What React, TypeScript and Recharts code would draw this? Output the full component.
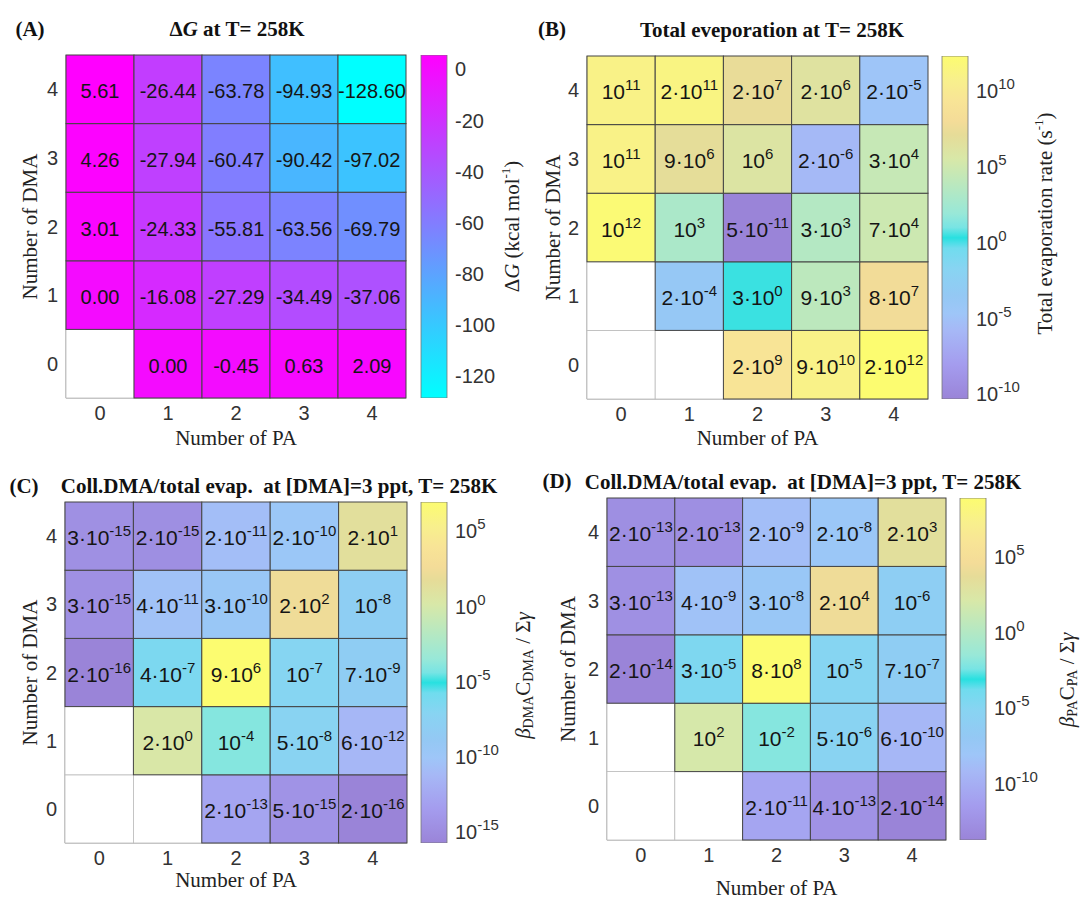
import React from "react";
import { ScatterChart, Scatter, XAxis, YAxis, BarChart, Bar } from "recharts";

const SANS = "'Liberation Sans', Arial, sans-serif";
const SERIF = "'Liberation Serif', 'Times New Roman', serif";

const PA = [0, 1, 2, 3, 4];
const DMA = [0, 1, 2, 3, 4];

// rows go DMA = 0..4, columns PA = 0..4 (null = no cluster)
const deltaG = [
  [null, 0.0, -0.45, 0.63, 2.09],
  [0.0, -16.08, -27.29, -34.49, -37.06],
  [3.01, -24.33, -55.81, -63.56, -69.79],
  [4.26, -27.94, -60.47, -90.42, -97.02],
  [5.61, -26.44, -63.78, -94.93, -128.6],
];
const totalEvap = [
  [null, null, 2e9, 9e10, 2e12],
  [null, 2e-4, 3e0, 9e3, 8e7],
  [1e12, 1e3, 5e-11, 3e3, 7e4],
  [1e11, 9e6, 1e6, 2e-6, 3e4],
  [1e11, 2e11, 2e7, 2e6, 2e-5],
];
const collDMA = [
  [null, null, 2e-13, 5e-15, 2e-16],
  [null, 2e0, 1e-4, 5e-8, 6e-12],
  [2e-16, 4e-7, 9e6, 1e-7, 7e-9],
  [3e-15, 4e-11, 3e-10, 2e2, 1e-8],
  [3e-15, 2e-15, 2e-11, 2e-10, 2e1],
];
const collPA = [
  [null, null, 2e-11, 4e-13, 2e-14],
  [null, 1e2, 1e-2, 5e-6, 6e-10],
  [2e-14, 3e-5, 8e8, 1e-5, 7e-7],
  [3e-13, 4e-9, 3e-8, 2e4, 1e-6],
  [2e-13, 2e-13, 2e-9, 2e-8, 2e3],
];

const dGTicks = [0, -20, -40, -60, -80, -100, -120];
const evapTicks = [-10, -5, 0, 5, 10];
const collDMATicks = [-15, -10, -5, 0, 5];
const collPATicks = [-10, -5, 0, 5];

const COOL: [number, string][] = [
  [0, "#00ffff"],
  [1, "#ff00ff"],
];
const SOFT_PARULA: [number, string][] = [
  [0.0, "#9a84d8"],
  [0.1, "#a49cee"],
  [0.2, "#a6b8f6"],
  [0.25, "#9ec6f8"],
  [0.3, "#94c8f4"],
  [0.38, "#88d4f2"],
  [0.44, "#70dcee"],
  [0.47, "#28e0e0"],
  [0.5, "#78e4e4"],
  [0.54, "#98e8d8"],
  [0.62, "#b8e8c0"],
  [0.7, "#d8e8a8"],
  [0.77, "#e6dc98"],
  [0.81, "#f4dc98"],
  [0.87, "#f8e496"],
  [0.93, "#f8f08c"],
  [1.0, "#fcfc70"],
];

function hexToRgb(h: string) {
  const n = parseInt(h.slice(1), 16);
  return [(n >> 16) & 255, (n >> 8) & 255, n & 255];
}

function sampleMap(stops: [number, string][], t: number) {
  const u = Math.max(0, Math.min(1, t));
  for (let i = 1; i < stops.length; i++) {
    if (u <= stops[i][0]) {
      const [t0, c0] = stops[i - 1];
      const [t1, c1] = stops[i];
      const f = (u - t0) / (t1 - t0 || 1);
      const a = hexToRgb(c0);
      const b = hexToRgb(c1);
      return `rgb(${a.map((v, k) => Math.round(v + (b[k] - v) * f)).join(",")})`;
    }
  }
  return stops[stops.length - 1][1];
}

function flat(rows: (number | null)[][]) {
  return rows.flat().filter((v): v is number => v != null);
}

function logRange(rows: (number | null)[][]): [number, number] {
  const vals = flat(rows).map((v) => Math.log10(v));
  return [Math.min(...vals), Math.max(...vals)];
}

function sciParts(v: number) {
  let e = Math.floor(Math.log10(v) + 1e-9);
  let m = Math.round(v / Math.pow(10, e));
  if (m >= 10) {
    m = 1;
    e += 1;
  }
  return { m, e };
}

type CellDatum = { x: number; y: number; v: number | null };

function toCells(rows: (number | null)[][]): CellDatum[] {
  const out: CellDatum[] = [];
  DMA.forEach((d, r) => PA.forEach((p, c) => out.push({ x: p, y: d, v: rows[r][c] })));
  // empty cells first so the dark borders sit on top
  return out.sort((a, b) => (a.v == null ? 0 : 1) - (b.v == null ? 0 : 1));
}

const tickStyle = { fontSize: 20, fill: "#333", fontFamily: SANS };

function Heatmap(props: {
  rows: (number | null)[][];
  log: boolean;
  left: number;
  top: number;
  width: number;
  height: number;
  margin: { top: number; right: number; left: number; bottom: number };
  yWidth: number;
  xHeight: number;
  yLabelX: number;
  xLabelY: number;
  fontSize: number;
}) {
  const { rows, log, width, height, margin, yWidth, xHeight, fontSize } = props;
  const plotW = width - margin.left - margin.right - yWidth;
  const plotH = height - margin.top - margin.bottom - xHeight;
  const cw = plotW / PA.length;
  const ch = plotH / DMA.length;

  let colorOf: (v: number) => string;
  if (log) {
    const [lo, hi] = logRange(rows);
    colorOf = (v) => sampleMap(SOFT_PARULA, (Math.log10(v) - lo) / (hi - lo));
  } else {
    const vals = flat(rows);
    const lo = Math.min(...vals);
    const hi = Math.max(...vals);
    colorOf = (v) => sampleMap(COOL, (v - lo) / (hi - lo));
  }

  const shape = (p: any) => {
    const { cx, cy, payload } = p;
    const x = cx - cw / 2;
    const y = cy - ch / 2;
    if (payload.v == null) {
      return <rect x={x} y={y} width={cw} height={ch} fill="#fff" stroke="#bbb" strokeWidth={0.8} />;
    }
    let label: React.ReactNode;
    if (log) {
      const { m, e } = sciParts(payload.v);
      label = (
        <>
          <tspan>{m === 1 ? "10" : `${m}·10`}</tspan>
          <tspan dy={-9} fontSize={15}>
            {e}
          </tspan>
        </>
      );
    } else {
      label = payload.v.toFixed(2);
    }
    return (
      <g>
        <rect x={x} y={y} width={cw} height={ch} fill={colorOf(payload.v)} stroke="#444" strokeWidth={1} />
        <text x={cx} y={cy + 9} textAnchor="middle" fontSize={fontSize} fontFamily={SANS} fill="#151515">
          {label}
        </text>
      </g>
    );
  };

  return (
    <div style={{ position: "absolute", left: props.left, top: props.top }}>
      <ScatterChart width={width} height={height} margin={margin}>
        <XAxis
          type="number"
          dataKey="x"
          domain={[-0.5, 4.5]}
          ticks={PA}
          interval={0}
          height={xHeight}
          tick={tickStyle}
          tickLine={false}
          axisLine={{ stroke: "#999" }}
          label={(lp: any) => {
            const vb = lp.viewBox;
            return (
              <text x={vb.x + vb.width / 2} y={props.xLabelY} textAnchor="middle" fontSize={21} fontFamily={SERIF} fill="#222">
                Number of PA
              </text>
            );
          }}
        />
        <YAxis
          type="number"
          dataKey="y"
          domain={[-0.5, 4.5]}
          ticks={DMA}
          interval={0}
          width={yWidth}
          tick={tickStyle}
          tickLine={false}
          axisLine={{ stroke: "#999" }}
          label={(lp: any) => {
            const vb = lp.viewBox;
            const cy = vb.y + vb.height / 2;
            return (
              <text
                x={props.yLabelX}
                y={cy}
                transform={`rotate(-90, ${props.yLabelX}, ${cy})`}
                textAnchor="middle"
                dominantBaseline="central"
                fontSize={21}
                fontFamily={SERIF}
                fill="#222"
              >
                Number of DMA
              </text>
            );
          }}
        />
        <Scatter data={toCells(rows)} shape={shape} isAnimationActive={false} />
      </ScatterChart>
    </div>
  );
}

const LogTick = (p: any) => (
  <text x={p.x} y={p.y + 7} textAnchor="start" fontSize={20} fontFamily={SANS} fill="#333">
    <tspan>10</tspan>
    <tspan dy={-9} fontSize={15}>
      {p.payload.value}
    </tspan>
  </text>
);

function ColorBar(props: {
  left: number;
  top: number;
  width: number;
  height: number;
  margin: { top: number; right: number; left: number; bottom: number };
  axisWidth: number;
  lo: number;
  hi: number;
  ticks: number[];
  grad: string;
  log: boolean;
  labelDx: number;
  labelDy?: number;
  title: React.ReactNode;
}) {
  const data = [{ name: "cb", v: [props.lo, props.hi] }];
  return (
    <div style={{ position: "absolute", left: props.left, top: props.top }}>
      <BarChart width={props.width} height={props.height} margin={props.margin} data={data} barCategoryGap={0}>
        <XAxis dataKey="name" hide />
        <YAxis
          orientation="right"
          type="number"
          domain={[props.lo, props.hi]}
          allowDataOverflow
          ticks={props.ticks}
          interval={0}
          width={props.axisWidth}
          axisLine={false}
          tickLine={false}
          tick={props.log ? LogTick : tickStyle}
          label={(lp: any) => {
            const vb = lp.viewBox;
            const x = vb.x + props.labelDx;
            const cy = vb.y + vb.height / 2 + (props.labelDy || 0);
            return (
              <text
                x={x}
                y={cy}
                transform={`rotate(-90, ${x}, ${cy})`}
                textAnchor="middle"
                dominantBaseline="central"
                fontSize={21}
                fontFamily={SERIF}
                fill="#222"
              >
                {props.title}
              </text>
            );
          }}
        />
        <Bar dataKey="v" fill={`url(#${props.grad})`} stroke="#777" strokeWidth={0.8} isAnimationActive={false} />
      </BarChart>
    </div>
  );
}

function Gradient({ id, stops }: { id: string; stops: [number, string][] }) {
  return (
    <linearGradient id={id} x1="0" y1="1" x2="0" y2="0">
      {stops.map(([t, c]) => (
        <stop key={t} offset={t} stopColor={c} />
      ))}
    </linearGradient>
  );
}

function Title({ x, y, children }: { x: number; y: number; children: React.ReactNode }) {
  return (
    <div
      style={{
        position: "absolute",
        left: x,
        top: y,
        transform: "translate(-50%, -50%)",
        whiteSpace: "pre",
        fontFamily: SERIF,
        fontWeight: "bold",
        fontSize: 21,
        color: "#111",
        lineHeight: 1,
      }}
    >
      {children}
    </div>
  );
}

const sup = (t: string) => (
  <tspan dy={-7} fontSize={13}>
    {t}
  </tspan>
);
const sub = (t: string) => (
  <tspan dy={5} fontSize={14}>
    {t}
  </tspan>
);

export default function App() {
  const dGvals = flat(deltaG);
  const [evLo, evHi] = logRange(totalEvap);
  const [cdLo, cdHi] = logRange(collDMA);
  const [cpLo, cpHi] = logRange(collPA);

  return (
    <div style={{ position: "absolute", left: 0, top: 0, width: 1083, height: 903, background: "#fff" }}>
      <svg width={0} height={0} style={{ position: "absolute" }}>
        <defs>
          <Gradient id="gCool" stops={COOL} />
          <Gradient id="gSoft" stops={SOFT_PARULA} />
        </defs>
      </svg>

      <Title x={30} y={29}>(A)</Title>
      <Title x={237} y={29}>
        Δ<i>G</i> at T= 258K
      </Title>
      <Title x={552} y={29}>(B)</Title>
      <Title x={772} y={30}>Total eveporation at T= 258K</Title>
      <Title x={24} y={486}>(C)</Title>
      <Title x={279} y={486}>Coll.DMA/total evap.  at [DMA]=3 ppt, T= 258K</Title>
      <Title x={557} y={481}>(D)</Title>
      <Title x={803} y={482}>Coll.DMA/total evap.  at [DMA]=3 ppt, T= 258K</Title>

      <Heatmap
        rows={deltaG}
        log={false}
        left={0}
        top={0}
        width={420}
        height={450}
        margin={{ top: 55, right: 14, left: 0, bottom: 0 }}
        yWidth={66}
        xHeight={52}
        yLabelX={30}
        xLabelY={445}
        fontSize={20}
      />
      <ColorBar
        left={400}
        top={0}
        width={140}
        height={450}
        margin={{ top: 55, right: 0, left: 21, bottom: 52 }}
        axisWidth={93}
        lo={Math.min(...dGvals)}
        hi={Math.max(...dGvals)}
        ticks={dGTicks}
        grad="gCool"
        log={false}
        labelDx={65}
        title={
          <>
            <tspan>Δ</tspan>
            <tspan fontStyle="italic">G</tspan>
            <tspan> (kcal mol</tspan>
            {sup("-1")}
            <tspan dy={7}>)</tspan>
          </>
        }
      />

      <Heatmap
        rows={totalEvap}
        log={true}
        left={540}
        top={0}
        width={400}
        height={450}
        margin={{ top: 56, right: 12, left: 0, bottom: 0 }}
        yWidth={47}
        xHeight={51}
        yLabelX={13}
        xLabelY={445}
        fontSize={21}
      />
      <ColorBar
        left={930}
        top={0}
        width={153}
        height={450}
        margin={{ top: 56, right: 0, left: 12, bottom: 51 }}
        axisWidth={115}
        lo={evLo}
        hi={evHi}
        ticks={evapTicks}
        grad="gSoft"
        log={true}
        labelDx={77}
        labelDy={-4}
        title={
          <>
            <tspan>Total evaporation rate (s</tspan>
            {sup("-1")}
            <tspan dy={7}>)</tspan>
          </>
        }
      />

      <Heatmap
        rows={collDMA}
        log={true}
        left={0}
        top={450}
        width={420}
        height={453}
        margin={{ top: 52, right: 13, left: 0, bottom: 0 }}
        yWidth={65}
        xHeight={60}
        yLabelX={30}
        xLabelY={437}
        fontSize={21}
      />
      <ColorBar
        left={400}
        top={450}
        width={140}
        height={453}
        margin={{ top: 52, right: 0, left: 21, bottom: 60 }}
        axisWidth={93}
        lo={cdLo}
        hi={cdHi}
        ticks={collDMATicks}
        grad="gSoft"
        log={true}
        labelDx={76}
        labelDy={3}
        title={
          <>
            <tspan fontStyle="italic">β</tspan>
            {sub("DMA")}
            <tspan dy={-5}>C</tspan>
            {sub("DMA")}
            <tspan dy={-5}> / Σ</tspan>
            <tspan fontStyle="italic">γ</tspan>
          </>
        }
      />

      <Heatmap
        rows={collPA}
        log={true}
        left={540}
        top={450}
        width={420}
        height={453}
        margin={{ top: 48, right: 14, left: 0, bottom: 0 }}
        yWidth={67}
        xHeight={63}
        yLabelX={28}
        xLabelY={445}
        fontSize={21}
      />
      <ColorBar
        left={940}
        top={450}
        width={143}
        height={453}
        margin={{ top: 48, right: 0, left: 20, bottom: 63 }}
        axisWidth={97}
        lo={cpLo}
        hi={cpHi}
        ticks={collPATicks}
        grad="gSoft"
        log={true}
        labelDx={81}
        labelDy={11}
        title={
          <>
            <tspan fontStyle="italic">β</tspan>
            {sub("PA")}
            <tspan dy={-5}>C</tspan>
            {sub("PA")}
            <tspan dy={-5}> / Σ</tspan>
            <tspan fontStyle="italic">γ</tspan>
          </>
        }
      />
    </div>
  );
}
